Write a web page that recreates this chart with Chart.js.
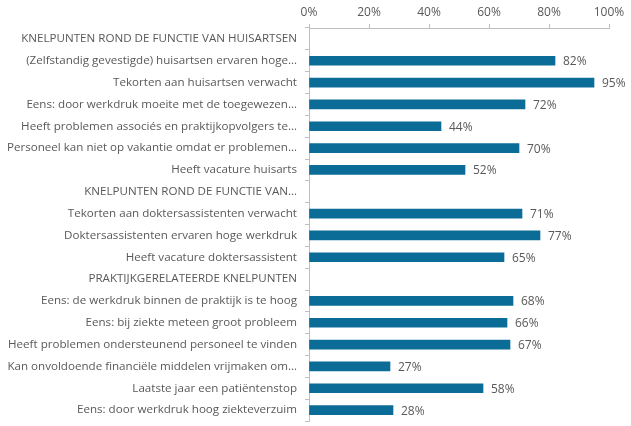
<!DOCTYPE html>
<html>
<head>
<meta charset="utf-8">
<script src="https://cdn.jsdelivr.net/npm/chart.js@4"></script>
<style>
  html, body { margin: 0; padding: 0; background: #fff; }
  #wrap { width: 631px; height: 426px; }
</style>
</head>
<body>
<div id="wrap"><canvas id="theChart"></canvas></div>
<script>
// rows as they appear top to bottom; section headers have no value
const labels = [
  "KNELPUNTEN ROND DE FUNCTIE VAN HUISARTSEN",
  "(Zelfstandig gevestigde) huisartsen ervaren hoge…",
  "Tekorten aan huisartsen verwacht",
  "Eens: door werkdruk moeite met de toegewezen…",
  "Heeft problemen associés en praktijkopvolgers te…",
  "Personeel kan niet op vakantie omdat er problemen…",
  "Heeft vacature huisarts",
  "KNELPUNTEN ROND DE FUNCTIE VAN…",
  "Tekorten aan doktersassistenten verwacht",
  "Doktersassistenten ervaren hoge werkdruk",
  "Heeft vacature doktersassistent",
  "PRAKTIJKGERELATEERDE KNELPUNTEN",
  "Eens: de werkdruk binnen de praktijk is te hoog",
  "Eens: bij ziekte meteen groot probleem",
  "Heeft problemen ondersteunend personeel te vinden",
  "Kan onvoldoende financiële middelen vrijmaken om…",
  "Laatste jaar een patiëntenstop",
  "Eens: door werkdruk hoog ziekteverzuim",
];
const values = [null, 82, 95, 72, 44, 70, 52, null, 71, 77, 65, null, 68, 66, 67, 27, 58, 28];

const BAR_COLOR = "#0b6d97";
const TEXT_COLOR = "#595959";
const AXIS_COLOR = "#bfbfbf";
const FONT = "'Open Sans', 'Noto Sans', sans-serif";

// simple value labels to the right of each bar
const valueLabels = {
  id: "valueLabels",
  afterDatasetsDraw(chart) {
    const ctx = chart.ctx;
    const meta = chart.getDatasetMeta(0);
    ctx.save();
    ctx.font = "12px " + FONT;
    ctx.fillStyle = TEXT_COLOR;
    ctx.textAlign = "left";
    ctx.textBaseline = "middle";
    meta.data.forEach((bar, i) => {
      const v = values[i];
      if (v === null) return;
      ctx.fillText(v + "%", bar.x + 8, bar.y + 1);
    });
    ctx.restore();
  },
};

const config = {
  type: "bar",
  data: {
    labels: labels,
    datasets: [
      {
        data: values,
        backgroundColor: BAR_COLOR,
        borderWidth: 0,
        barThickness: 9,
      },
    ],
  },
  options: {
    indexAxis: "y",
    responsive: true,
    maintainAspectRatio: false,
    animation: false,
    layout: {
      padding: { left: 0, right: 22, top: 0, bottom: 5 },
    },
    plugins: {
      legend: { display: false },
      tooltip: { enabled: false },
    },
    scales: {
      x: {
        position: "top",
        min: 0,
        max: 100,
        ticks: {
          stepSize: 20,
          color: TEXT_COLOR,
          font: { family: FONT, size: 12 },
          padding: 4,
          callback: (v) => v + "%",
        },
        grid: {
          drawOnChartArea: false,
          drawTicks: true,
          tickLength: 4,
          color: AXIS_COLOR,
        },
        border: { color: AXIS_COLOR },
        afterFit(scale) {
          scale.height = 28;
        },
      },
      y: {
        ticks: {
          autoSkip: false,
          color: TEXT_COLOR,
          font: { family: FONT, size: 11.6 },
          padding: 8,
        },
        grid: {
          offset: true,
          drawOnChartArea: false,
          drawTicks: true,
          tickLength: 4,
          color: AXIS_COLOR,
        },
        border: { color: AXIS_COLOR },
        afterFit(scale) {
          scale.width = 309;
          // rows fill the full height, no room kept for label overhang
          scale.paddingTop = 0;
          scale.paddingBottom = 0;
        },
      },
    },
  },
  plugins: [valueLabels],
};

const theChart = new Chart(document.getElementById("theChart"), config);
</script>
</body>
</html>
